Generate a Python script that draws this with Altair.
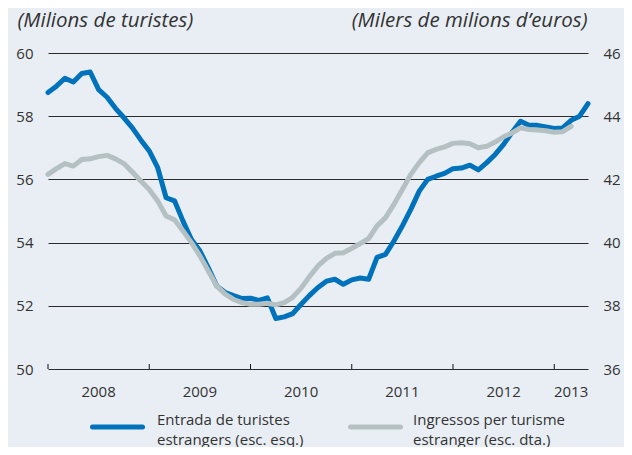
import altair as alt
import pandas as pd

# ---------------- data ----------------
months = pd.date_range("2008-01-01", periods=65, freq="MS").strftime("%Y-%m").tolist()

# Entrada de turistes estrangers (milions, left scale)
tourists = [
    58.75, 58.95, 59.20, 59.08, 59.35, 59.40, 58.84, 58.60, 58.25, 57.95, 57.63, 57.25,
    56.90, 56.37, 55.42, 55.32, 54.68, 54.10, 53.74, 53.20, 52.63, 52.42, 52.32, 52.23,
    52.24, 52.17, 52.25, 51.60, 51.65, 51.75, 52.05, 52.33, 52.58, 52.78, 52.84, 52.68,
    52.82, 52.88, 52.84, 53.53, 53.63, 54.05, 54.53, 55.05, 55.63, 56.00, 56.10, 56.19,
    56.34, 56.36, 56.45, 56.30, 56.53, 56.79, 57.11, 57.49, 57.84, 57.71, 57.71, 57.66,
    57.61, 57.63, 57.87, 58.00, 58.40,
]

# Ingressos per turisme estranger (milers de milions d'euros, right scale)
receipts = [
    42.16, 42.34, 42.50, 42.42, 42.63, 42.65, 42.72, 42.76, 42.65, 42.50, 42.23, 41.95,
    41.68, 41.32, 40.84, 40.72, 40.37, 40.00, 39.58, 39.10, 38.63, 38.37, 38.20, 38.10,
    38.05, 38.05, 38.08, 38.03, 38.10, 38.27, 38.56, 38.93, 39.26, 39.50, 39.66, 39.68,
    39.82, 39.97, 40.13, 40.53, 40.79, 41.21, 41.68, 42.16, 42.53, 42.84, 42.95, 43.03,
    43.14, 43.16, 43.13, 43.00, 43.05, 43.18, 43.35, 43.47, 43.63, 43.58, 43.56, 43.54,
    43.49, 43.51, 43.68,
]

years = ["2008", "2009", "2010", "2011", "2012", "2013"]
label_month = [6, 6, 6, 6, 6, 2]           # month within the year where the label sits
left_ticks = [50, 52, 54, 56, 58, 60]
right_ticks = [36, 38, 40, 42, 44, 46]

left_title = "(Milions de turistes)"
right_title = "(Milers de milions d\u2019euros)"
legend_labels = [
    "Entrada de turistes\nestrangers (esc. esq.)",
    "Ingressos per turisme\nestranger (esc. dta.)",
]

BLUE = "#0072bb"
GRAY = "#b5c0c2"
BG = "#e8eef3"
TXT = "#333333"
FONT = "Open Sans"

n_months = len(months)
df_t = pd.DataFrame({"month": months, "t": range(n_months), "value": tourists})
df_r = pd.DataFrame({"month": months[: len(receipts)], "t": range(len(receipts)), "value": receipts})

year_start_idx = [months.index(f"{y}-01") for y in years]
label_idx = [s + m for s, m in zip(year_start_idx, label_month)]
ticks_df = pd.DataFrame({"t": year_start_idx})
labels_df = pd.DataFrame({"t": label_idx, "year": years})

x_scale = alt.Scale(domain=[0, n_months - 1], nice=False, zero=False)

blue = alt.Chart(df_t).mark_line(
    color=BLUE, strokeWidth=5, strokeJoin="round", strokeCap="round"
).encode(
    x=alt.X("t:Q", scale=x_scale, axis=None),
    y=alt.Y(
        "value:Q",
        scale=alt.Scale(domain=[50, 60], nice=False, zero=False),
        axis=alt.Axis(
            orient="left", values=left_ticks, grid=True, gridColor="#2b2b2b", gridWidth=1,
            domain=False, ticks=False, labelPadding=15, labelFontSize=15, labelColor=TXT,
            labelFont=FONT,
            title=left_title, titleAngle=0, titleX=-31, titleY=-27, titleAlign="left",
            titleBaseline="alphabetic", titleFontStyle="italic", titleFontWeight="normal",
            titleFontSize=20.5, titleColor=TXT, titleFont=FONT,
        ),
    ),
)

gray = alt.Chart(df_r).mark_line(
    color=GRAY, strokeWidth=5, strokeJoin="round", strokeCap="round"
).encode(
    x=alt.X("t:Q", scale=x_scale, axis=None),
    y=alt.Y(
        "value:Q",
        scale=alt.Scale(domain=[36, 46], nice=False, zero=False),
        axis=alt.Axis(
            orient="right", values=right_ticks, grid=False, domain=False, ticks=False,
            labelPadding=15, labelFontSize=15, labelColor=TXT, labelFont=FONT,
            title=right_title, titleAngle=0, titleX=-1, titleY=-27, titleAlign="right",
            titleBaseline="alphabetic", titleFontStyle="italic", titleFontWeight="normal",
            titleFontSize=20.5, titleColor=TXT, titleFont=FONT,
        ),
    ),
)

year_ticks = alt.Chart(ticks_df).mark_rule(color="#111111", strokeWidth=1).encode(
    x=alt.X("t:Q", scale=x_scale, axis=None),
    y=alt.value(311),
    y2=alt.value(316),
)

year_labels = alt.Chart(labels_df).mark_text(
    baseline="middle", align="center", fontSize=15, font=FONT, color=TXT
).encode(
    x=alt.X("t:Q", scale=x_scale, axis=None),
    y=alt.value(339),
    text="year:N",
)


def legend_item(i, color, x0, x1, xt):
    d = pd.DataFrame({"label": [legend_labels[i]]})
    sym = alt.Chart(d).mark_rule(color=color, strokeWidth=5, strokeCap="round").encode(
        x=alt.value(x0), x2=alt.value(x1), y=alt.value(374)
    )
    txt = alt.Chart(d).mark_text(
        align="left", baseline="middle", lineBreak="\n", lineHeight=20,
        fontSize=15, font=FONT, color=TXT,
    ).encode(text="label:N", x=alt.value(xt), y=alt.value(367))
    return sym + txt


leg1 = legend_item(0, BLUE, 44.5, 94.5, 109)
leg2 = legend_item(1, GRAY, 302.5, 352.5, 365)

chart = (
    alt.layer(blue, gray, year_ticks, year_labels, leg1, leg2)
    .resolve_scale(y="independent")
    .properties(
        width=540,
        height=316,
        autosize=alt.AutoSizeParams(type="none"),
        padding={"left": 40, "top": 45, "right": 36, "bottom": 78},
        background=BG,
    )
    .configure_view(stroke=None)
)

chart.save("out.html", embed_options={"renderer": "svg", "actions": False})
